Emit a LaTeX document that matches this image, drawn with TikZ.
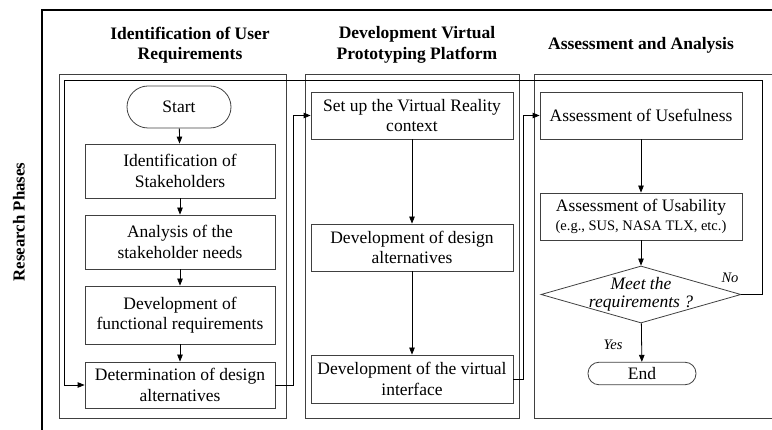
\documentclass[tikz,border=0pt]{standalone}
\usepackage{fontspec}
\setmainfont{Liberation Serif}
\usetikzlibrary{arrows.meta,shapes.geometric}

\definecolor{edgegray}{gray}{0.25}

\begin{document}
\begin{tikzpicture}[x=1pt,y=-1pt,
  every node/.style={inner sep=0pt, align=center},
  txt/.style={font=\fontsize{17.5}{20.5}\selectfont},
  title/.style={font=\bfseries\fontsize{17.5}{20.5}\selectfont},
  small/.style={font=\fontsize{14.5}{17}\selectfont},
  proc/.style={txt, draw=edgegray, line width=0.8pt, minimum width=190pt},
  procwide/.style={proc, minimum width=202pt},
  terminal/.style={txt, draw=edgegray, line width=0.8pt, rounded corners=#1},
  decision/.style={diamond, draw=edgegray, line width=0.8pt, minimum width=200pt, minimum height=57pt},
  panel/.style={draw=edgegray, line width=0.8pt},
  frame/.style={draw=black, line width=1.1pt},
  arr/.style={draw=black, line width=0.8pt, -{Triangle[length=7pt,width=5.5pt]}},
  link/.style={draw=edgegray, line width=0.8pt}
]
\useasboundingbox (0,0) rectangle (772,430);

% outer frame and side heading
\draw[frame] (772,10) -- (42,10) -- (42,430);
\node[font=\bfseries\fontsize{16.8}{20}\selectfont, rotate=90] (phases) at (19,222) {Research Phases};

% column headings
\node[title] (h1) at (190,45) {Identification of User\\Requirements};
\node[title] (h2) at (417,45) {Development Virtual\\Prototyping Platform};
\node[title] (h3) at (641,45) {Assessment and Analysis};

% column panels
\draw[panel] (59,74) rectangle (286,418);
\draw[panel] (305,74) rectangle (519,418);
\draw[panel] (772,74) -- (534,74) -- (534,418) -- (772,418);

% column 1
\node[terminal=21pt, minimum width=104pt, minimum height=42pt] (start) at (179,107) {Start};
\node[proc, minimum height=54pt] (ident) at (180,171) {Identification of\\Stakeholders};
\node[proc, minimum height=54pt] (needs) at (180,242) {Analysis of the\\stakeholder needs};
\node[proc, minimum height=58pt] (func) at (180,315) {Development of\\functional requirements};
\node[proc, minimum height=46pt] (det) at (180,385) {Determination of design\\alternatives};

% column 2
\node[procwide, minimum height=47pt] (setup) at (412,115.5) {Set up the Virtual Reality\\context};
\node[procwide, minimum height=47pt] (design) at (412,247.5) {Development of design\\alternatives};
\node[procwide, minimum height=48pt] (iface) at (412,379) {Development of the virtual\\interface};

% column 3
\node[procwide, minimum height=47pt] (useful) at (641,115.5) {Assessment of Usefulness};
\node[procwide, minimum height=47pt] (usab) at (641,216.5) {Assessment of Usability\\[-1pt]{\fontsize{14.5}{17}\selectfont (e.g., SUS, NASA TLX, etc.)}};
\node[decision] (dec) at (641,294.5) {};
\node[txt, font=\itshape\fontsize{17.5}{18.5}\selectfont] (dectext) at (dec.center) {Meet the\\requirements ?};
\node[terminal=11pt, minimum width=108pt, minimum height=22.5pt] (end) at (642,373.5) {End};

% flow inside columns
\draw[arr] (start) -- (ident);
\draw[arr] (ident) -- (needs);
\draw[arr] (needs) -- (func);
\draw[arr] (func) -- (det);
\draw[arr] (setup) -- (design);
\draw[arr] (design) -- (iface);
\draw[arr] (useful) -- (usab);
\draw[arr] (usab) -- (dec);
\draw[arr] (dec) -- (end);

% links between columns
\draw[arr] (det.east) -- ++(18,0) |- (setup.west);
\draw[arr] (iface.east) -- ++(10,0) |- (useful.west);

% feedback loop when requirements are not met
\coordinate (loopR) at (762,80);
\coordinate (loopL) at (64,80);
\draw[arr] (dec.east) -| (loopR) -- (loopL) |- (det.west);

% decision labels
\node[small, font=\itshape\fontsize{14.5}{17}\selectfont] (no) at (730,278) {No};
\node[small, font=\itshape\fontsize{14.5}{17}\selectfont] (yes) at (613,345) {Yes};
\end{tikzpicture}
\end{document}
